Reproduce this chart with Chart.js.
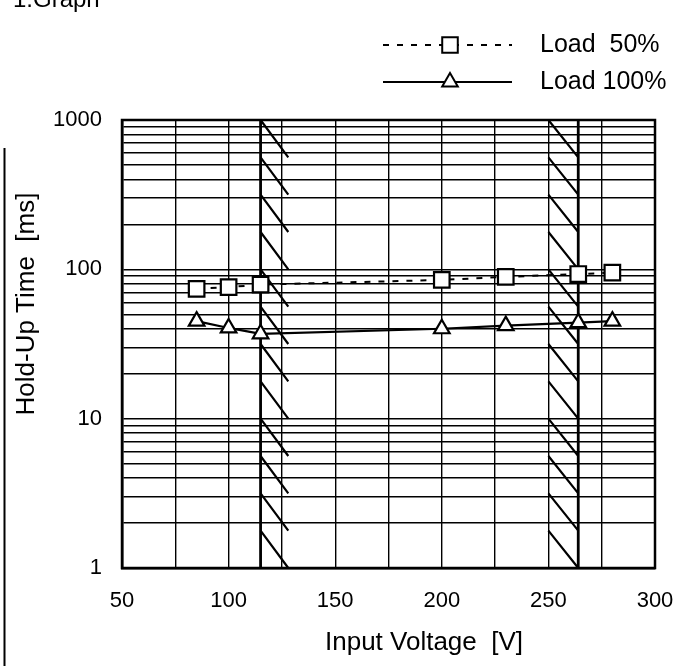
<!DOCTYPE html>
<html>
<head>
<meta charset="utf-8">
<script src="https://cdn.jsdelivr.net/npm/chart.js@4.4.1/dist/chart.umd.min.js"></script>
<style>
  html, body { margin: 0; padding: 0; background: #fff; }
  #wrap { width: 681px; height: 666px; position: relative; }
</style>
</head>
<body>
<div id="wrap"><canvas id="chart" width="681" height="666"></canvas></div>
<script>
// values
var voltage = [85, 100, 115, 200, 230, 264, 280];
var load50 = [74, 76, 79, 85, 89, 93, 95];
var load100 = [45, 40.5, 37, 40, 42, 44, 45];

var xGrid = [50, 75, 100, 125, 150, 175, 200, 225, 250, 275, 300];
var xTickLabels = [50, 100, 150, 200, 250, 300];
var yTickLabels = [1, 10, 100, 1000];
var limitVoltages = [115, 264];
var hatchLeft = [115, 128];
var hatchRight = [250, 264];

var yGrid = [];
[1, 10, 100].forEach(function (d) {
    for (var m = 1; m < 10; m++) yGrid.push(m * d);
});
yGrid.push(1000);

var FONT = "'Liberation Sans', Arial, sans-serif";
Chart.defaults.font.family = FONT;
Chart.defaults.color = '#000';

function hatch(ctx, xs, ys, x0, x1) {
    var px0 = xs.getPixelForValue(x0), px1 = xs.getPixelForValue(x1);
    ctx.beginPath();
    for (var k = 0; k < 12; k++) {
        var a = Math.pow(10, 3 - k / 4), b = Math.pow(10, 3 - (k + 1) / 4);
        ctx.moveTo(px0, ys.getPixelForValue(a));
        ctx.lineTo(px1, ys.getPixelForValue(b));
    }
    ctx.stroke();
}

var extras = {
    id: 'extras',
    beforeDatasetsDraw: function (chart) {
        var ctx = chart.ctx, a = chart.chartArea;
        var xs = chart.scales.x, ys = chart.scales.y;
        ctx.save();
        ctx.strokeStyle = '#000';
        ctx.lineWidth = 2.2;
        hatch(ctx, xs, ys, hatchLeft[0], hatchLeft[1]);
        hatch(ctx, xs, ys, hatchRight[0], hatchRight[1]);
        ctx.lineWidth = 2.8;
        limitVoltages.forEach(function (v) {
            var x = xs.getPixelForValue(v);
            ctx.beginPath();
            ctx.moveTo(x, a.top);
            ctx.lineTo(x, a.bottom);
            ctx.stroke();
        });
        ctx.lineWidth = 2.5;
        ctx.strokeRect(a.left, a.top, a.right - a.left, a.bottom - a.top);
        ctx.restore();
    },
    afterDraw: function (chart) {
        var ctx = chart.ctx;
        ctx.save();
        ctx.fillStyle = '#000';
        ctx.strokeStyle = '#000';

        // page title, cut at the top of the scan
        ctx.font = '24px ' + FONT;
        ctx.textBaseline = 'alphabetic';
        ctx.fillText('1.Graph', 13, 7);

        // scan edge line on the left
        ctx.lineWidth = 2;
        ctx.beginPath();
        ctx.moveTo(4.5, 148);
        ctx.lineTo(4.5, 666);
        ctx.stroke();

        // axis titles
        ctx.font = '26px ' + FONT;
        ctx.textAlign = 'center';
        ctx.textBaseline = 'middle';
        ctx.fillText('Input Voltage  [V]', 424, 643);
        ctx.save();
        ctx.translate(27, 304);
        ctx.rotate(-Math.PI / 2);
        ctx.fillText('Hold-Up Time  [ms]', 0, 0);
        ctx.restore();

        // legend
        var rows = [
            { y: 45, ds: chart.data.datasets[0] },
            { y: 82, ds: chart.data.datasets[1] }
        ];
        ctx.textAlign = 'left';
        ctx.font = '25px ' + FONT;
        rows.forEach(function (r) {
            ctx.lineWidth = r.ds.borderWidth;
            ctx.setLineDash(r.ds.borderDash || []);
            ctx.beginPath();
            ctx.moveTo(383, r.y);
            ctx.lineTo(512, r.y);
            ctx.stroke();
            ctx.setLineDash([]);
            ctx.fillStyle = '#fff';
            ctx.lineWidth = 2;
            Chart.helpers.drawPoint(ctx, {
                pointStyle: r.ds.pointStyle,
                radius: r.ds.pointRadius,
                borderWidth: 2
            }, 450, r.y);
            ctx.fillStyle = '#000';
            ctx.fillText(r.ds.label, 540, r.y);
        });
        ctx.restore();
    }
};

new Chart(document.getElementById('chart'), {
    type: 'line',
    data: {
        labels: voltage,
        datasets: [
            {
                label: 'Load  50%',
                data: voltage.map(function (v, i) { return { x: v, y: load50[i] }; }),
                borderColor: '#000',
                borderWidth: 2,
                borderDash: [6, 8],
                pointStyle: 'rect',
                pointRadius: 11,
                pointBorderWidth: 2.2,
                pointBackgroundColor: '#fff',
                pointBorderColor: '#000',
                fill: false
            },
            {
                label: 'Load 100%',
                data: voltage.map(function (v, i) { return { x: v, y: load100[i] }; }),
                borderColor: '#000',
                borderWidth: 2.2,
                pointStyle: 'triangle',
                pointRadius: 9,
                pointBorderWidth: 2.2,
                pointBackgroundColor: '#fff',
                pointBorderColor: '#000',
                fill: false
            }
        ]
    },
    options: {
        responsive: false,
        animation: false,
        layout: { padding: { top: 120, right: 26, left: 0, bottom: 0 } },
        plugins: {
            legend: { display: false },
            tooltip: { enabled: false }
        },
        scales: {
            x: {
                type: 'linear',
                min: 50,
                max: 300,
                afterBuildTicks: function (s) {
                    s.ticks = xGrid.map(function (v) { return { value: v }; });
                },
                afterFit: function (s) {
                    s.height = 98;
                    s.paddingLeft = 0;
                    s.paddingRight = 0;
                },
                grid: { color: '#000', lineWidth: 1.4, drawTicks: false },
                border: { color: '#000', width: 2.5 },
                ticks: {
                    padding: 20,
                    maxRotation: 0,
                    autoSkip: false,
                    font: { size: 22 },
                    callback: function (v) {
                        return xTickLabels.indexOf(v) >= 0 ? String(v) : '';
                    }
                }
            },
            y: {
                type: 'logarithmic',
                min: 1,
                max: 1000,
                afterBuildTicks: function (s) {
                    s.ticks = yGrid.map(function (v) { return { value: v }; });
                },
                afterFit: function (s) {
                    s.width = 122;
                    s.paddingTop = 0;
                    s.paddingBottom = 0;
                },
                grid: { color: '#000', lineWidth: 1.4, drawTicks: false },
                border: { color: '#000', width: 2.5 },
                ticks: {
                    padding: 20,
                    autoSkip: false,
                    font: { size: 22 },
                    callback: function (v) {
                        return yTickLabels.indexOf(v) >= 0 ? String(v) : '';
                    }
                }
            }
        }
    },
    plugins: [extras]
});
</script>
</body>
</html>
